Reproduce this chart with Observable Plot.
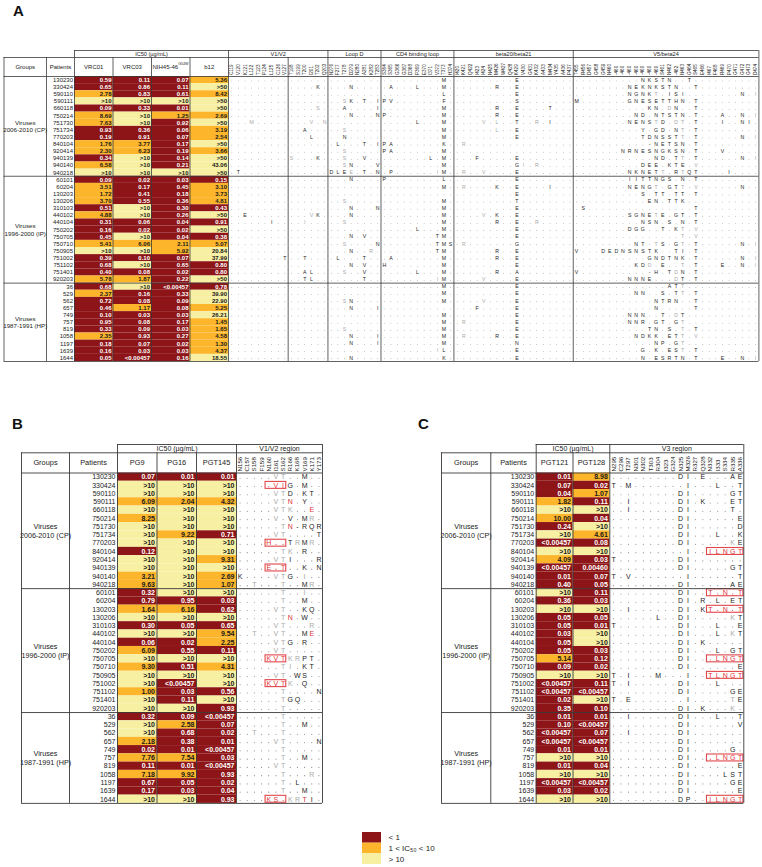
<!DOCTYPE html>
<html><head><meta charset="utf-8">
<script src="https://cdn.jsdelivr.net/npm/d3@7"></script>
<script src="https://cdn.jsdelivr.net/npm/@observablehq/plot@0.6"></script>
<style>
body{margin:0;background:#fff;}
#fig{position:relative;width:762px;height:867px;background:#fff;font-family:"Liberation Sans",Arial,sans-serif;overflow:hidden;}
#fig > div{position:absolute;}
.plab{font:bold 15px "Liberation Sans",Arial,sans-serif;color:#111;}
svg{overflow:visible;}
</style></head><body><div id="fig"></div>
<script>
// ---------------- DATA ----------------
const patients = ["130230","330424","590110","590111","660118","750214","751730","751734","770203","840104","920414","940139","940140","940218",
"60101","60204","130203","130206","310103","440102","440104","750202","750705","750710","750905","751002","751102","751401","920203",
"36","529","562","657","749","757","819","1058","1197","1639","1644"];
const groupNames = ["Viruses\n2006-2010 (CP)","Viruses\n1996-2000 (IP)","Viruses\n1987-1991 (HP)"];
const groupSizes = [14,15,11];

// Panel A IC50 (µg/mL)
const VRC01 = ["0.59","0.65","2.78",">10","0.09","8.69","7.63","0.93","0.19","1.76","2.30","0.34","6.58",">10",
"0.09","3.51","1.72","3.70","0.51","4.88","0.31","0.16","0.45","5.41",">10","0.39","0.68","0.40","5.78",
"0.68","2.37","0.72","0.46","0.10","0.95","0.33","2.35","0.18","0.16","0.05"];
const VRC03 = ["0.11","0.86","0.83",">10","0.33",">10",">10","0.36","0.91","3.77","6.23",">10",">10",">10",
"0.02","0.17","0.41","0.55",">10",">10","0.06","0.02",">10","6.06",">10","0.10",">10","0.08","1.87",
">10","0.16","0.08","1.17","0.03","0.08","0.09","0.93","0.07","0.03","<0.00457"];
const NIH4546 = ["0.07","0.11","0.61",">10","0.01","1.25","0.92","0.06","0.07","0.17","0.19","0.14","0.21",">10",
"0.03","0.45","0.18","0.36","0.30","0.26","0.04","0.02","0.04","2.11","5.92","0.07","0.65","0.02","0.22",
"<0.00457","0.33","0.09","0.08","0.03","0.17","0.03","0.27","0.02","0.03","0.16"];
const b12 = ["5.36",">50","8.42",">50",">50","2.69",">50","3.19","2.54",">50","3.66",">50","43.06",">50",
"0.15","3.10","3.73","4.81","0.43",">50","0.91",">50","0.38","5.07","20.84","37.99","0.80","0.80",">50",
"0.78","39.90","22.90","5.25","26.21","1.45","1.65","4.58","1.30","4.37","18.55"];

// Panel B IC50
const PG9 = ["0.07",">10",">10","6.09",">10","8.25",">10",">10",">10","0.12",">10",">10","3.21","9.63",
"0.32","0.79","1.64",">10","0.30",">10","0.06","6.09",">10","9.30",">10",">10","1.00",">10",">10",
"0.32",">10",">10","2.18","0.02","7.76","0.11","7.18","0.67","0.17",">10"];
const PG16 = ["0.01",">10",">10","2.04",">10",">10",">10","9.22",">10",">10",">10",">10",">10",">10",
">10","0.95","6.16",">10","0.05",">10","0.02","0.55",">10","0.51",">10","<0.00457","0.03","0.11",">10",
"0.09","2.58","0.68","0.38","0.01","7.54","0.01","9.92","0.05","0.03",">10"];
const PGT145 = ["0.01",">10",">10","4.32",">10",">10",">10","0.71",">10",">10","9.31",">10","2.69","1.07",
">10","0.03","0.62",">10","0.65","9.54","2.25","0.11",">10","4.31",">10",">10","0.56",">10","0.93",
"<0.00457","0.07","0.02","0.01","<0.00457","0.03","<0.00457","0.93","0.02","0.04","0.93"];

// Panel C IC50
const PGT121 = ["0.01","0.07","0.04","1.82",">10","10.00","0.24",">10","<0.00457",">10","4.09","<0.00457","0.01","0.40",
">10","0.36",">10","0.05","0.05","0.03","0.05","0.05","5.14","0.09",">10","<0.00457","<0.00457","0.02","0.35",
"0.01","0.10","<0.00457","<0.00457","0.01",">10","0.01",">10","<0.00457","0.03",">10"];
const PGT128 = ["8.98","0.02","1.07","0.11",">10","0.04",">10","4.61","0.08",">10","0.03","0.00460","0.07","0.05",
"0.11","0.03",">10","0.05","0.01",">10",">10","0.03","0.12","0.02",">10","0.11","<0.00457",">10","0.10",
"0.01","<0.00457","0.07","<0.00457","0.01",">10","0.04",">10","<0.00457","0.02",">10"];

// Residue labels
const regionsA = ["V1/V2","Loop D","CD4 binding loop","beta20/beta21","V5/beta24"];
const blockRegionA = [0,0,1,2,3,4];
const blockLabelsA = [
 ["C119","V120","K121","L122","T123","P124","L125","C126","V127"],
 ["T198","S199","T200","I201","T202","Q203"],
 ["N276","F277","T278","D279","N280","A281","K282","T283"],
 ["S364","S365","G366","G367","D368","P369","E370","I371","V372","T373","H374"],
 ["I420","K421","Q422","I423","I424","N425","M426","W427","Q428","K429","V430","G431","K432","A433","M434","Y435","A436","P437"],
 ["T455","R456","D457","G458","G459","N460","-460","-460","-460","-460","-460","-460","-460","S461","N462","-462","N463","G464","S465","E466","I467","F468","R469","P470","G471","G472","G473","D474"]
];
const labelsB = ["N156","C157","S158","F159","N160","I161","S162","R166","K168","V169","K171","Y173"];
const labelsC = ["N295","C296","T297","N301","N302","T303","R304","I323","G324","N325","M326","R327","Q328","N332","I333","S334","R335","A336"];

// Sequences (uppercase = black, lowercase = grey, "!" = next residue red, "." = identical)
const seqA = [
 ["","","",".........M",".........E","..........NKSTN..T"],
 ["","....K","...N",".A...L...M","......R..E","........NEKNKSTN..T"],
 ["","","",".........L",".........E","........NGNKt.ISI........N.i"],
 ["","","..sK.T.I","PV.......F",".........S","M.......GNESETTHN.T"],
 ["","....s","..A....I",".........M","......R..E....T","...........KN.dN..T"],
 ["","","...N...N","P........M","......R..E",".........ND.NTSTN.T...A..N.i"],
 ["...m","...v.n","",".....L...M","....v.l..T..r.I","........NENStD.dt.T...I..NI"],
 ["","..A","..s",".........M","......l..E","..........Y.GD.Nt.T"],
 ["","...L","..N",".........M",".........E","..........TDNSSTt.T......N.i"],
 ["","",".L...T.I","PA.......K",".r","...........-NETSN.T"],
 ["","","..s","PA.......M","",".......NRNESNGKSN.T...V"],
 ["","s...K","..s..V",".......L.M","...F.....E","............ND.Tt.T......N.i"],
 ["","","..sN...V",".........M",".........Gi.r","..........DEE.KTE.v"],
 [".T","","DLEe.T.N",".P......iM",".r..v....E","........NKNETt.RtQT....I"],
 ["","","...N","P........L",".........E","........IITTNGS.N.T"],
 ["","","",".........M",".r....K..E....I","........NENGt.GTt.v......N"],
 ["","","","",".........E","..........S.TT.TT.T"],
 ["","","..s",".........M",".........T","...........EN.TTK."],
 ["","","...N...N",".........M",".........E",".S................T"],
 ["..E","...vK","...N",".........M","....v.K..E","........SGNEtE.GT.T"],
 ["......I","..i","..s",".........M","......R..E..r","..........NSN.S.N.T"],
 ["","","",".....L...M",".........E","........DGG..T.Kt.v"],
 ["","","...N.V","........TM",".........E","................t.v"],
 ["","","..s....N","........TMS",".r.......G",".........NT.tS.Gt.T......N.i"],
 ["","","...N..r","........TM","......R..E","V...DEDNSNSTK..TI.T"],
 ["........T","..T",".L...T",".A.......M","......R..E","...........GNDTNK.T......N.i"],
 ["","","...N.V","H........M",".........E",".........KDd.E..t.T...E..N.i"],
 ["","..AL","..s..V",".....L...M","......R..A","V..........-H.TdN.T"],
 ["","..TL",".....T","........iM","....v....E","........NNNE...dT.T"],
 ["","","",".........M",".........E","..............ATt"],
 ["","","",".........M",".........E",".........NN..S.Tt.T"],
 ["","","..sN",".........M","....v....E","............NTRN..T"],
 ["","","...N...I","","...F.....E","............N.....T"],
 ["","","",".........M",".........E","........NNN..T.dT"],
 ["","","",".........M",".r.......E","........NNR.GT.Gt"],
 ["","","..s",".........M",".........E","...........TN.S.t.T"],
 ["","","...N...I",".........M",".r....R..E",".........NDKK.ETt.v"],
 ["","","...N...I",".........M",".........N","............NP.Gt"],
 ["","","","........iL",".........E","..........G.K.ESt.T"],
 ["","","...N",".........K",".........E","..........N.ESRTN.T...E..N.i"]
];
const seqB = [
 ".....vt..M..","....!.!V!IG.M..",".....vtD.KT.",".....vt!N.Y..",".....vtk..!E.",".....v.V.Mr.","......t!N-RQR",".....vt....T",
 "....!H!.!.TrMr.","......tk.R..",".....vtI...R","....!E!.!T..K.N","K....vtG.i..","..t...t..Mr.",
 "......t..i..","......t..M..",".....vt..KQ.","......t!N.W..",".....vt...r.","..t..vt..M!E.",".....vtG.R..",".....vt.....",
 "....!K!V!TkrPT.","......ti.KT.",".....vt.WS..","....!K!V!Tk.Q..","......t....N","......tGQ...","......t.....",
 "......t.....","......t..M..","..t...t.....",".....vt....N","......t.....","......t..M..",".....vt.....",
 "......t...r.","......t.L...","......t..M..","....!K!S!.kr!TI."
];
const boxesB = [["330424",4,6],["770203",4,6],["940139",4,6],["750705",4,6],["751002",4,6],["1644",4,6]];
const seqC = [
 ".........DI.E...AE","T.M.......I...L..T",".........DI.....GT","..I......DI.K...ET","..I......DI.....T.",".........DI......E",
 ".........DI......D",".........DI...L..K",".........DI.....kE","..........I..!I!L!N!G!T","T........DI.......",
 ".........DI.....GT","T.V.......I......T",".........DI.....AE",
 ".........DI..!T!.!N!.!T",".........DI.R.L.ET","..I......DI.K!T!.!N!.!T","......L..DI.....kT","T........DI...L..E",
 ".........DI...L.kT",".........DI.K.....",".........DI...L.GT",".........DI..!.!L!N!G!T",".........DI......E",
 "T.I...M...I..!T!L!N!G!T","T.I......DI...L...",".........DI.....GE","T.E.......I.....tE",".........DI.K...k.",
 "..I......DI...L..T",".........DI......V","..I......DI.......",".........DI.......",".........DI.....G.",
 ".........DI..!.!L!N!G!T",".........DI......E",".........DI....LST",".........DI.....GE",".........DI......E",
 ".........DP..!I!L!N!G!T"
];
const boxesC = [["840104",13,17],["60101",13,17],["130203",13,17],["750705",13,17],["750905",13,17],["757",13,17],["1644",13,17]];

const legendLabels = ["< 1","1 < IC\u2085\u2080 < 10","> 10"];

// ---------------- DRAWING ----------------
const FONT = "Liberation Sans, Arial, Helvetica, sans-serif";
const cats = ["lo","mid","hi"];
const catColors = ["#8d1518","#fdb62b","#f7f0a3"];
function cat(v){ if(v[0]==="<") return "lo"; if(v[0]===">") return "hi"; const n=+v; return n<1?"lo":(n<=10?"mid":"hi"); }
function parseSeq(str){
  const out=[]; let red=false;
  for(const c of str){
    if(c==="!"){red=true;continue;}
    let style;
    if(c===".") style = red?"reddot":"dot";
    else if(red) style="red";
    else if(c!=="-" && c===c.toLowerCase()) style="gray";
    else style="black";
    out.push({ch:c.toUpperCase(),style}); red=false;
  }
  return out;
}

function tableMarks(T){
  const m=[]; const n=T.patients.length;
  const Y = px => (px - T.dataTop)/T.rowH;
  const ab=T.abX; const res0=ab[ab.length-1];
  const resEnd = res0 + T.nRes*T.resW;
  const cx = c => res0 + (c+0.5)*T.resW;
  const LS = {stroke:"#3a3a3a", strokeWidth:T.lw};
  const cells=[];
  T.abs.forEach((a,j)=>a.values.forEach((v,i)=>cells.push({i,j,v,c:cat(v)})));
  m.push(Plot.rect(cells,{x1:d=>ab[d.j],x2:d=>ab[d.j+1],y1:d=>d.i,y2:d=>d.i+1,fill:"c"}));
  m.push(Plot.text(cells.filter(d=>d.c==="lo"),{x:d=>ab[d.j+1]-T.pad,y:d=>d.i+0.5,text:"v",textAnchor:"end",fill:"#fff",fontWeight:"bold",fontSize:T.fsVal}));
  m.push(Plot.text(cells.filter(d=>d.c!=="lo"),{x:d=>ab[d.j+1]-T.pad,y:d=>d.i+0.5,text:"v",textAnchor:"end",fill:"#1a1a1a",fontWeight:"bold",fontSize:T.fsVal}));
  m.push(Plot.text(T.patients,{x:ab[0]-T.pad,y:(d,i)=>i+0.5,text:d=>d,textAnchor:"end",fill:"#222",fontSize:T.fsPat}));
  let acc=0; const gl=[];
  groupSizes.forEach((s,k)=>{gl.push({name:groupNames[k],y:acc+s/2,y1:acc+s}); acc+=s;});
  m.push(Plot.text(gl,{x:(T.g0+T.g1)/2,y:"y",text:"name",fill:"#222",fontSize:T.fsGrp,lineHeight:1.2}));
  const hy = Y((T.colTop+T.dataTop)/2);
  m.push(Plot.text(["Groups"],{x:(T.g0+T.g1)/2,y:hy,text:d=>d,fontSize:T.fsHead,fill:"#222"}));
  m.push(Plot.text(["Patients"],{x:(T.g1+ab[0])/2,y:hy,text:d=>d,fontSize:T.fsHead,fill:"#222"}));
  m.push(Plot.text(T.abs,{x:(d,j)=>(ab[j]+ab[j+1])/2 - (d.sup?T.fsHead*0.9:0),y:hy,text:"name",fontSize:T.fsHead,fill:"#222"}));
  const sups=T.abs.map((d,j)=>({...d,j})).filter(d=>d.sup);
  m.push(Plot.text(sups,{x:d=>(ab[d.j]+ab[d.j+1])/2 + T.fsHead*1.25,y:hy,dy:-T.fsHead*0.45,text:"sup",fontSize:T.fsHead*0.6,fill:"#222",textAnchor:"start"}));
  m.push(Plot.text(["IC50 (\u00b5g/mL)"],{x:(ab[0]+res0)/2,y:Y((T.headTop+T.colTop)/2),text:d=>d,fontSize:T.fsTop,fill:"#222"}));
  m.push(Plot.text(T.regions,{x:d=>(d.x0+d.x1)/2,y:Y((T.headTop+T.colTop)/2),text:"name",fontSize:T.fsTop,fill:"#222"}));
  m.push(Plot.text(T.resLabels,{x:(d,c)=>cx(c),y:Y(T.dataTop-1.5),text:d=>d,rotate:-90,textAnchor:"start",fontSize:T.fsLab,fill:"#222"}));
  const res=[];
  T.seq.forEach((s,i)=>parseSeq(s).forEach((r,c)=>res.push({i,c,...r})));
  m.push(Plot.dot(res.filter(d=>d.style==="dot"),{x:d=>cx(d.c),y:d=>d.i+0.5+T.dotOff,r:T.dotR,fill:"#8a8a8a",stroke:null}));
  m.push(Plot.dot(res.filter(d=>d.style==="reddot"),{x:d=>cx(d.c),y:d=>d.i+0.5+T.dotOff,r:T.dotR,fill:"#e03a3e",stroke:null}));
  const st={black:"#1e1e1e",gray:"#a8a8a8",red:"#e0343a"};
  for(const k of ["black","gray","red"]){
    m.push(Plot.text(res.filter(d=>d.style===k),{x:d=>cx(d.c),y:d=>d.i+0.5,text:"ch",fill:st[k],fontSize:T.fsRes}));
  }
  m.push(Plot.rect(T.boxes,{x1:d=>res0+d[1]*T.resW+0.4,x2:d=>res0+(d[2]+1)*T.resW-0.4,y1:d=>T.patients.indexOf(d[0])+0.08,y2:d=>T.patients.indexOf(d[0])+0.92,fill:"none",stroke:"#e2474b",strokeWidth:1.1}));
  const hl=[{y:Y(T.colTop),x1:T.g0,x2:resEnd},{y:Y(T.headTop),x1:ab[0],x2:resEnd},{y:0,x1:T.g0,x2:resEnd}];
  gl.forEach(g=>hl.push({y:g.y1,x1:T.g0,x2:resEnd}));
  m.push(Plot.ruleY(hl,{y:"y",x1:"x1",x2:"x2",...LS}));
  const vl=[{x:T.g0,y1:Y(T.colTop)},{x:T.g1,y1:Y(T.colTop)},{x:ab[0],y1:Y(T.headTop)},{x:res0,y1:Y(T.headTop)},{x:resEnd,y1:Y(T.headTop)}];
  for(let j=1;j<ab.length-1;j++) vl.push({x:ab[j],y1:Y(T.colTop)});
  T.blockEdges.forEach(e=>vl.push({x:res0+e.c*T.resW,y1:Y(e.full?T.headTop:T.colTop)}));
  m.push(Plot.ruleX(vl,{x:"x",y1:"y1",y2:n,...LS}));
  return m;
}

const fig=document.getElementById("fig");
function place(el,left,top){const d=document.createElement("div");d.style.left=left+"px";d.style.top=top+"px";d.appendChild(el);fig.appendChild(d);return d;}
function label(t,left,top){const d=document.createElement("div");d.className="plab";d.textContent=t;d.style.left=left+"px";d.style.top=top+"px";fig.appendChild(d);}

// ---- Panel A ----
const blockSizesA = blockLabelsA.map(b=>b.length);
const resLabelsA = blockLabelsA.flat();
const seqAflat = seqA.map(r=>r.map((b,k)=>b.padEnd(blockSizesA[k],".").slice(0,blockSizesA[k])).join(""));
const resWA = 6.63, res0A = 228;
let cum=0; const edgesA=[]; const regA=[];
blockSizesA.forEach((s,k)=>{ if(k>0) edgesA.push({c:cum,full:blockRegionA[k]!==blockRegionA[k-1]}); cum+=s; });
regionsA.forEach((name,r)=>{
  const ks=blockRegionA.map((v,k)=>v===r?k:-1).filter(k=>k>=0);
  const c0=blockSizesA.slice(0,ks[0]).reduce((a,b)=>a+b,0);
  const c1=blockSizesA.slice(0,ks[ks.length-1]+1).reduce((a,b)=>a+b,0);
  regA.push({name,x0:res0A+c0*resWA,x1:res0A+c1*resWA});
});
const TA = {patients, dataTop:76, rowH:7.125, headTop:50, colTop:57, g0:3.5, g1:46,
  abX:[74,112.5,151,189.5,228], abs:[{name:"VRC01",values:VRC01},{name:"VRC03",values:VRC03},{name:"NIH45-46",sup:"G54W",values:NIH4546},{name:"b12",values:b12}],
  nRes:resLabelsA.length, resW:resWA, resLabels:resLabelsA, seq:seqAflat, boxes:[], blockEdges:edgesA, regions:regA,
  pad:1.5, lw:0.8, fsVal:6, fsPat:6, fsGrp:6.2, fsHead:6, fsTop:5.6, fsLab:4.6, fsRes:5.2, dotR:0.45, dotOff:0.12};
const HA=368;
const plotA = Plot.plot({width:762,height:HA,margin:0,
  x:{axis:null,domain:[0,762],range:[0,762]}, y:{axis:null,domain:[(0-TA.dataTop)/TA.rowH,(HA-TA.dataTop)/TA.rowH],range:[0,HA]},
  color:{domain:cats,range:catColors}, style:{fontFamily:FONT,background:"white",overflow:"visible"},
  marks:tableMarks(TA)});
place(plotA,0,0);

// ---- Panels B and C (shared rows) ----
const topBC=436, HBC=374;
const common = {patients, dataTop:472.5, rowH:8.26, headTop:444, colTop:452.3, pad:2, lw:0.9,
  fsVal:7, fsPat:7, fsGrp:7.2, fsHead:7.4, fsTop:7, fsLab:6.2, fsRes:7, dotR:0.55, dotOff:0.14};
const TB = {...common, g0:21, g1:69, abX:[117,156.5,196,236],
  abs:[{name:"PG9",values:PG9},{name:"PG16",values:PG16},{name:"PGT145",values:PGT145}],
  nRes:labelsB.length, resW:86/12, resLabels:labelsB, seq:seqB, boxes:boxesB, blockEdges:[],
  regions:[{name:"V1/V2 region",x0:236,x1:322}]};
const TC = {...common, g0:441, g1:490.3, abX:[535.7,572.5,609.3],
  abs:[{name:"PGT121",values:PGT121},{name:"PGT128",values:PGT128}],
  nRes:labelsC.length, resW:134/18, resLabels:labelsC, seq:seqC, boxes:boxesC, blockEdges:[],
  regions:[{name:"V3 region",x0:609.3,x1:743.3}]};
const plotBC = Plot.plot({width:762,height:HBC,margin:0,
  x:{axis:null,domain:[0,762],range:[0,762]}, y:{axis:null,domain:[(topBC-common.dataTop)/common.rowH,(topBC+HBC-common.dataTop)/common.rowH],range:[0,HBC]},
  color:{domain:cats,range:catColors}, style:{fontFamily:FONT,background:"white",overflow:"visible"},
  marks:[...tableMarks(TB),...tableMarks(TC)]});
place(plotBC,0,topBC);

// ---- Legend ----
const plotL = Plot.plot({width:110,height:34,margin:0,
  x:{axis:null,domain:[0,110],range:[0,110]}, y:{axis:null,domain:[0,3],range:[1,33]},
  color:{domain:cats,range:catColors}, style:{fontFamily:FONT,background:"white"},
  marks:[
    Plot.rect(legendLabels,{x1:0,x2:19,y1:(d,i)=>i,y2:(d,i)=>i+1,fill:(d,i)=>cats[i]}),
    Plot.text(legendLabels,{x:26,y:(d,i)=>i+0.5,text:d=>d,textAnchor:"start",fontSize:8,fill:"#222"})
  ]});
place(plotL,362,831);

label("A",13,2); label("B",12,415); label("C",418,415);
</script></body></html>
